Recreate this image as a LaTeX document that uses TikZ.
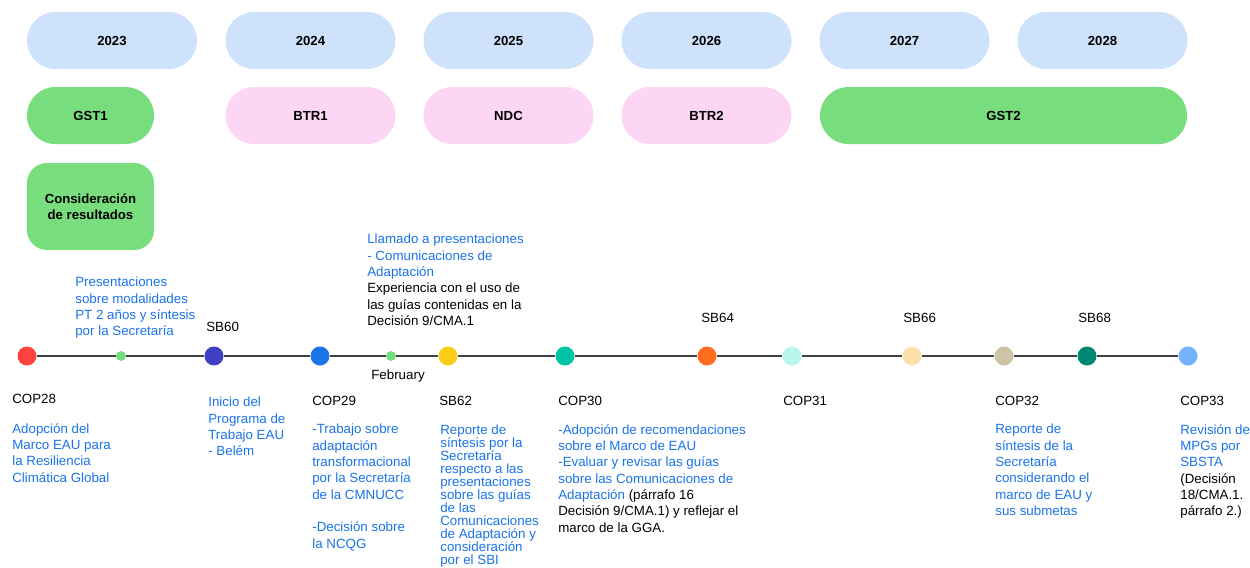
\documentclass[tikz,border=0pt]{standalone}
\usepackage{fontspec}
\setmainfont{Liberation Sans}
\usepackage{tikz}
\usetikzlibrary{shapes}
\definecolor{yearblue}{HTML}{CFE2FB}
\definecolor{gstgreen}{HTML}{77DD7D}
\definecolor{btrpink}{HTML}{FDD6F5}
\definecolor{txtblue}{HTML}{1A73E8}
\newcommand{\TB}[1]{\textcolor{txtblue}{#1}}

\begin{document}
\begin{tikzpicture}[x=0.6pt, y=-0.6pt,
  pill/.style={rounded corners=17pt, minimum height=34.2pt, inner sep=0pt,
    font=\bfseries\fontsize{7.9}{9.6}\selectfont},
  dot/.style={circle, inner sep=0pt, minimum size=11.4pt},
  smalldot/.style={circle, inner sep=0pt, minimum size=6pt, fill=gstgreen},
  tick/.style={inner sep=0pt, font=\fontsize{8}{9.8}\selectfont},
  note/.style={anchor=north west, inner sep=0pt, align=left,
    font=\fontsize{8}{9.8}\selectfont}]

  \useasboundingbox (0,0) rectangle (1250,568);

  %% years
  \node[pill, fill=yearblue, minimum width=102pt] (y23) at (112,40.5) {2023};
  \node[pill, fill=yearblue, minimum width=102pt] (y24) at (310.5,40.5) {2024};
  \node[pill, fill=yearblue, minimum width=102pt] (y25) at (508.5,40.5) {2025};
  \node[pill, fill=yearblue, minimum width=102pt] (y26) at (706.5,40.5) {2026};
  \node[pill, fill=yearblue, minimum width=102pt] (y27) at (904.5,40.5) {2027};
  \node[pill, fill=yearblue, minimum width=102pt] (y28) at (1102.5,40.5) {2028};

  %% processes
  \node[pill, fill=gstgreen, minimum width=76.2pt] (gst1) at (90.5,115.5) {GST1};
  \node[pill, fill=btrpink, minimum width=102pt] (btr1) at (310.5,115.5) {BTR1};
  \node[pill, fill=btrpink, minimum width=102pt] (ndc) at (508.5,115.5) {NDC};
  \node[pill, fill=btrpink, minimum width=102pt] (btr2) at (706.5,115.5) {BTR2};
  \node[pill, fill=gstgreen, minimum width=220.2pt] (gst2) at (1003.5,115.5) {GST2};
  \node[pill, fill=gstgreen, rounded corners=12pt, minimum width=76.2pt, minimum height=52.2pt,
    align=center] (cons) at (90.5,206.5) {Consideración\\de resultados};

  %% timeline
  \node[dot, fill={rgb,255:red,255;green,66;blue,66}] (cop28) at (27,356) {};
  \node[smalldot] (pres) at (121,356) {};
  \node[dot, fill={rgb,255:red,61;green,64;blue,196}] (sb60) at (214,356) {};
  \node[dot, fill={rgb,255:red,26;green,115;blue,232}] (cop29) at (320,356) {};
  \node[smalldot] (feb) at (391,356) {};
  \node[dot, fill={rgb,255:red,252;green,206;blue,28}] (sb62) at (448,356) {};
  \node[dot, fill={rgb,255:red,0;green,196;blue,167}] (cop30) at (565,356) {};
  \node[dot, fill={rgb,255:red,255;green,109;blue,31}] (sb64) at (707,356) {};
  \node[dot, fill={rgb,255:red,184;green,244;blue,236}] (cop31) at (792,356) {};
  \node[dot, fill={rgb,255:red,253;green,223;blue,173}] (sb66) at (912,356) {};
  \node[dot, fill={rgb,255:red,205;green,196;blue,165}] (cop32) at (1004,356) {};
  \node[dot, fill={rgb,255:red,0;green,135;blue,111}] (sb68) at (1087,356) {};
  \node[dot, fill={rgb,255:red,117;green,178;blue,252}] (cop33) at (1188,356) {};

  \foreach \a/\b in {cop28/pres, pres/sb60, sb60/cop29, cop29/feb, feb/sb62, sb62/cop30,
    cop30/sb64, sb64/cop31, cop31/sb66, sb66/cop32, cop32/sb68, sb68/cop33}
    \draw[line width=0.9pt, black!75] (\a) -- (\b);

  %% labels above
  \node[tick, anchor=west] (lsb60) at (206,327) {SB60};
  \node[tick, anchor=west] (lsb64) at (701,318) {SB64};
  \node[tick, anchor=west] (lsb66) at (903,318) {SB66};
  \node[tick, anchor=west] (lsb68) at (1078,318) {SB68};
  \node[tick, anchor=west] (lfeb) at (371,376) {February};

  %% labels below
  \node[tick, anchor=west] (l28) at (12,399) {COP28};
  \node[tick, anchor=west] (l29) at (312,401) {COP29};
  \node[tick, anchor=west] (l62) at (439,401) {SB62};
  \node[tick, anchor=west] (l30) at (558,401) {COP30};
  \node[tick, anchor=west] (l31) at (783,401) {COP31};
  \node[tick, anchor=west] (l32) at (995,401) {COP32};
  \node[tick, anchor=west] (l33) at (1180,401) {COP33};

  %% notes
  \node[note] (npres) at (75,277) {\TB{Presentaciones}\\\TB{sobre modalidades}\\\TB{PT 2 años y síntesis}\\\TB{por la Secretaría}};
  \node[note] (nllam) at (367,234) {\TB{Llamado a presentaciones}\\\TB{- Comunicaciones de}\\\TB{Adaptación}\\Experiencia con el uso de\\las guías contenidas en la\\Decisión 9/CMA.1};
  \node[note] (n28) at (12,423) {\TB{Adopción del}\\\TB{Marco EAU para}\\\TB{la Resiliencia}\\\TB{Climática Global}};
  \node[note] (n60) at (208,397) {\TB{Inicio del}\\\TB{Programa de}\\\TB{Trabajo EAU}\\\TB{- Belém}};
  \node[note] (n29) at (312,424) {\TB{-Trabajo sobre}\\\TB{adaptación}\\\TB{transformacional}\\\TB{por la Secretaría}\\\TB{de la CMNUCC}\\[9.8pt]\TB{-Decisión sobre}\\\TB{la NCQG}};
  \node[note, font=\fontsize{8}{7.8}\selectfont] (n62) at (440,425) {\TB{Reporte de}\\\TB{síntesis por la}\\\TB{Secretaría}\\\TB{respecto a las}\\\TB{presentaciones}\\\TB{sobre las guías}\\\TB{de las}\\\TB{Comunicaciones}\\\TB{de Adaptación y}\\\TB{consideración}\\\TB{por el SBI}};
  \node[note] (n30) at (558,424) {\TB{-Adopción de recomendaciones}\\\TB{sobre el Marco de EAU}\\\TB{-Evaluar y revisar las guías}\\\TB{sobre las Comunicaciones de}\\\TB{Adaptación} (párrafo 16\\Decisión 9/CMA.1) y reflejar el\\marco de la GGA.};
  \node[note] (n32) at (995,424) {\TB{Reporte de}\\\TB{síntesis de la}\\\TB{Secretaría}\\\TB{considerando el}\\\TB{marco de EAU y}\\\TB{sus submetas}};
  \node[note] (n33) at (1180,424) {\TB{Revisión de}\\\TB{MPGs por}\\\TB{SBSTA}\\(Decisión\\18/CMA.1.\\párrafo 2.)};
\end{tikzpicture}
\end{document}
